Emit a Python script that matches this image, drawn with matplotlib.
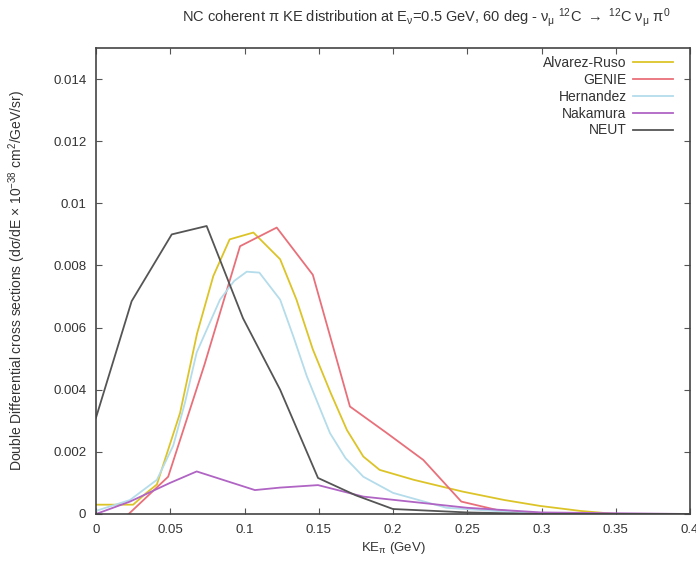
import matplotlib
matplotlib.use("Agg")
import matplotlib.pyplot as plt
from matplotlib.ticker import FuncFormatter

plt.rcParams['font.family'] = ['Liberation Sans', 'DejaVu Sans']
plt.rcParams['mathtext.fontset'] = 'custom'
plt.rcParams['mathtext.rm'] = 'Liberation Sans'
plt.rcParams['mathtext.it'] = 'Liberation Sans'

# values
alvarez_x = [0.0, 0.025, 0.034, 0.041, 0.0566, 0.068, 0.079, 0.09, 0.106, 0.124, 0.135, 0.146, 0.158, 0.169, 0.18, 0.191, 0.214, 0.247, 0.275, 0.299, 0.326, 0.35, 0.4]
alvarez_y = [0.0003, 0.0003, 0.00068, 0.00095, 0.00325, 0.0058, 0.00766, 0.00884, 0.00906, 0.0082, 0.0069, 0.0053, 0.0039, 0.0027, 0.00185, 0.00142, 0.0011, 0.00072, 0.00045, 0.00026, 0.0001, 0.0, 0.0]

genie_x = [0.022, 0.0486, 0.073, 0.097, 0.1217, 0.146, 0.171, 0.196, 0.2204, 0.246, 0.27, 0.3, 0.4]
genie_y = [0.0, 0.0012, 0.0048, 0.00862, 0.00922, 0.0077, 0.00346, 0.0026, 0.00174, 0.0004, 0.00013, 0.0, 0.0]

hernandez_x = [0.0, 0.0229, 0.041, 0.052, 0.06, 0.0678, 0.0835, 0.093, 0.1015, 0.11, 0.124, 0.133, 0.142, 0.1576, 0.168, 0.18, 0.2, 0.236, 0.3, 0.4]
hernandez_y = [0.0001, 0.00045, 0.0011, 0.0022, 0.0036, 0.0052, 0.0069, 0.0075, 0.0078, 0.00777, 0.0069, 0.0057, 0.00443, 0.0026, 0.0018, 0.0012, 0.00068, 0.0002, 0.0, 0.0]

nakamura_x = [0.0, 0.0229, 0.0498, 0.0678, 0.107, 0.124, 0.1495, 0.18, 0.25, 0.3, 0.4]
nakamura_y = [0.0, 0.0004, 0.001, 0.00137, 0.00077, 0.00085, 0.00093, 0.00056, 0.0002, 0.00005, 0.0]

neut_x = [0.0, 0.024, 0.051, 0.0745, 0.099, 0.124, 0.1495, 0.175, 0.2, 0.25, 0.3, 0.4]
neut_y = [0.0031, 0.00685, 0.009, 0.00927, 0.0063, 0.004, 0.00116, 0.0006, 0.00016, 0.00005, 0.0, 0.0]

x_ticks = [0, 0.05, 0.1, 0.15, 0.2, 0.25, 0.3, 0.35, 0.4]
y_ticks = [0, 0.002, 0.004, 0.006, 0.008, 0.01, 0.012, 0.014]

series = [
    ("Alvarez-Ruso", alvarez_x, alvarez_y, "#dcc428"),
    ("GENIE", genie_x, genie_y, "#e8707a"),
    ("Hernandez", hernandez_x, hernandez_y, "#b4dcea"),
    ("Nakamura", nakamura_x, nakamura_y, "#b064c4"),
    ("NEUT", neut_x, neut_y, "#555555"),
]

txt = "#333333"
fig = plt.figure(figsize=(6.96, 5.63), dpi=100)
ax = fig.add_axes([96 / 696, 49 / 563, 594 / 696, 466 / 563])

for name, xs, ys, col in series:
    ax.plot(xs, ys, color=col, lw=1.3, label=name)

ax.set_xlim(0, 0.4)
ax.set_ylim(0, 0.015)
ax.set_xticks(x_ticks)
ax.set_yticks(y_ticks)
fmt = FuncFormatter(lambda v, p: "{:g}".format(round(v, 4)))
ax.xaxis.set_major_formatter(fmt)
ax.yaxis.set_major_formatter(fmt)
ax.tick_params(direction='in', top=True, right=True, length=4, width=0.8,
               labelsize=9.5, labelcolor=txt, color="#555555", pad=7)
for s in ax.spines.values():
    s.set_color("#444444")
    s.set_linewidth(1.2)

ax.set_xlabel(r"KE$_\pi$ (GeV)", fontsize=9.5, color=txt, labelpad=3)
ax.set_ylabel(r"Double Differential cross sections (d$\sigma$/dE $\times$ 10$^{-38}$ cm$^2$/GeV/sr)",
              fontsize=10, color=txt, labelpad=18)
fig.text(0.612, 0.968,
         r"NC coherent $\pi$ KE distribution at E$_\nu$=0.5 GeV, 60 deg - $\nu_\mu$ $^{12}$C $\rightarrow$ $^{12}$C $\nu_\mu$ $\pi^0$",
         ha="center", va="center", fontsize=10.5, color=txt)

leg = ax.legend(loc="upper right", frameon=False, markerfirst=False, fontsize=10,
                handlelength=2.9, handletextpad=0.45, labelspacing=0.2,
                borderaxespad=0.6, bbox_to_anchor=(0.995, 1.012))
for t in leg.get_texts():
    t.set_color(txt)
    t.set_ha("right")
leg._legend_box.align = "right"

fig.savefig("out.png", dpi=100)
